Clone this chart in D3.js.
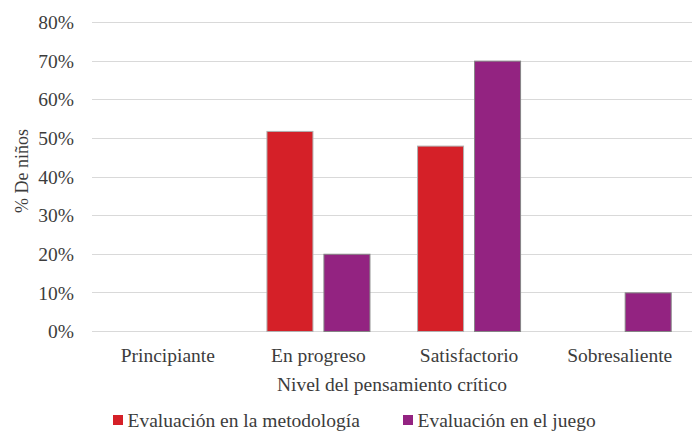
<!DOCTYPE html>
<html>
<head>
<meta charset="utf-8">
<script src="https://cdn.jsdelivr.net/npm/d3@7"></script>
<style>
  body { margin: 0; background: #fff; }
</style>
</head>
<body>
<svg id="chart" width="696" height="433"></svg>
<script>
// chart data
const categories = ['Principiante', 'En progreso', 'Satisfactorio', 'Sobresaliente'];
const seriesNames = ['Evaluación en la metodología', 'Evaluación en el juego'];
const metodologia = [0, 0.518, 0.48, 0];
const juego = [0, 0.20, 0.70, 0.10];
const yTicks = [0, 0.1, 0.2, 0.3, 0.4, 0.5, 0.6, 0.7, 0.8];
const colors = ['#d52028', '#932381'];

const FONT = "'Liberation Serif', 'Times New Roman', serif";
const TEXT = '#3c3c3c';
const svg = d3.select('#chart').attr('font-family', FONT);
const plot = { left: 92.5, right: 695, gridRight: 692, top: 22, bottom: 331 };

const x0 = d3.scaleBand().domain(categories).range([plot.left, plot.right]);
const half = x0.bandwidth() / 2;
const x1 = d3.scaleBand().domain([0, 1]).range([half - 51.5, half + 51.5]).paddingInner(11 / 57);
const y = d3.scaleLinear().domain([0, 0.8]).range([plot.bottom, plot.top]);

// gridlines
svg.append('g').selectAll('line').data(yTicks).join('line')
    .attr('x1', 92).attr('x2', plot.gridRight)
    .attr('y1', d => Math.round(y(d)) + 0.5).attr('y2', d => Math.round(y(d)) + 0.5)
    .attr('stroke', '#d9d9d9').attr('stroke-width', 1);

// y axis labels
const yAxis = svg.append('g').attr('transform', 'translate(74,0)')
    .call(d3.axisLeft(y).tickValues(yTicks).tickFormat(d3.format('.0%')).tickSize(0).tickPadding(0));
yAxis.attr('font-family', FONT).attr('font-size', null);
yAxis.select('.domain').remove();
yAxis.selectAll('text').attr('font-size', 19.5).attr('fill', TEXT).attr('dy', '0.34em');

// bars
const rows = categories.map((c, i) => ({ c, vals: [metodologia[i], juego[i]] }));
const groups = svg.append('g').selectAll('g').data(rows).join('g')
    .attr('transform', d => `translate(${x0(d.c)},0)`);
groups.selectAll('rect').data(d => d.vals.map((v, k) => ({ v, k })).filter(e => e.v > 0)).join('rect')
    .attr('x', d => x1(d.k))
    .attr('width', x1.bandwidth())
    .attr('y', d => y(d.v) + 0.5)
    .attr('height', d => y(0) - y(d.v))
    .attr('fill', d => colors[d.k])
    .attr('stroke', d => d.k === 0 ? '#b0b0b0' : '#858585')
    .attr('stroke-width', 1);

// x axis labels
const xAxis = svg.append('g').attr('transform', `translate(0,${plot.bottom})`)
    .call(d3.axisBottom(x0).tickSize(0).tickPadding(0));
xAxis.attr('font-family', FONT).attr('font-size', null);
xAxis.select('.domain').remove();
xAxis.selectAll('text').attr('font-size', 19.5).attr('fill', TEXT).attr('dy', null).attr('y', 31);

// axis titles
svg.append('text').attr('x', 392).attr('y', 391)
    .attr('text-anchor', 'middle').attr('font-size', 19.5).attr('fill', TEXT)
    .text('Nivel del pensamiento crítico');
svg.append('text').attr('transform', 'translate(28,171) rotate(-90)')
    .attr('text-anchor', 'middle').attr('font-size', 18).attr('fill', TEXT)
    .text('% De niños');

// legend
const legendX = [113, 403];
const legend = svg.append('g').selectAll('g').data(seriesNames).join('g')
    .attr('transform', (d, i) => `translate(${legendX[i]},415)`);
legend.append('rect').attr('width', 10).attr('height', 10).attr('fill', (d, i) => colors[i]);
legend.append('text').attr('x', 14.5).attr('y', 11.7).attr('font-size', 19.5).attr('fill', TEXT).text(d => d);
</script>
</body>
</html>
